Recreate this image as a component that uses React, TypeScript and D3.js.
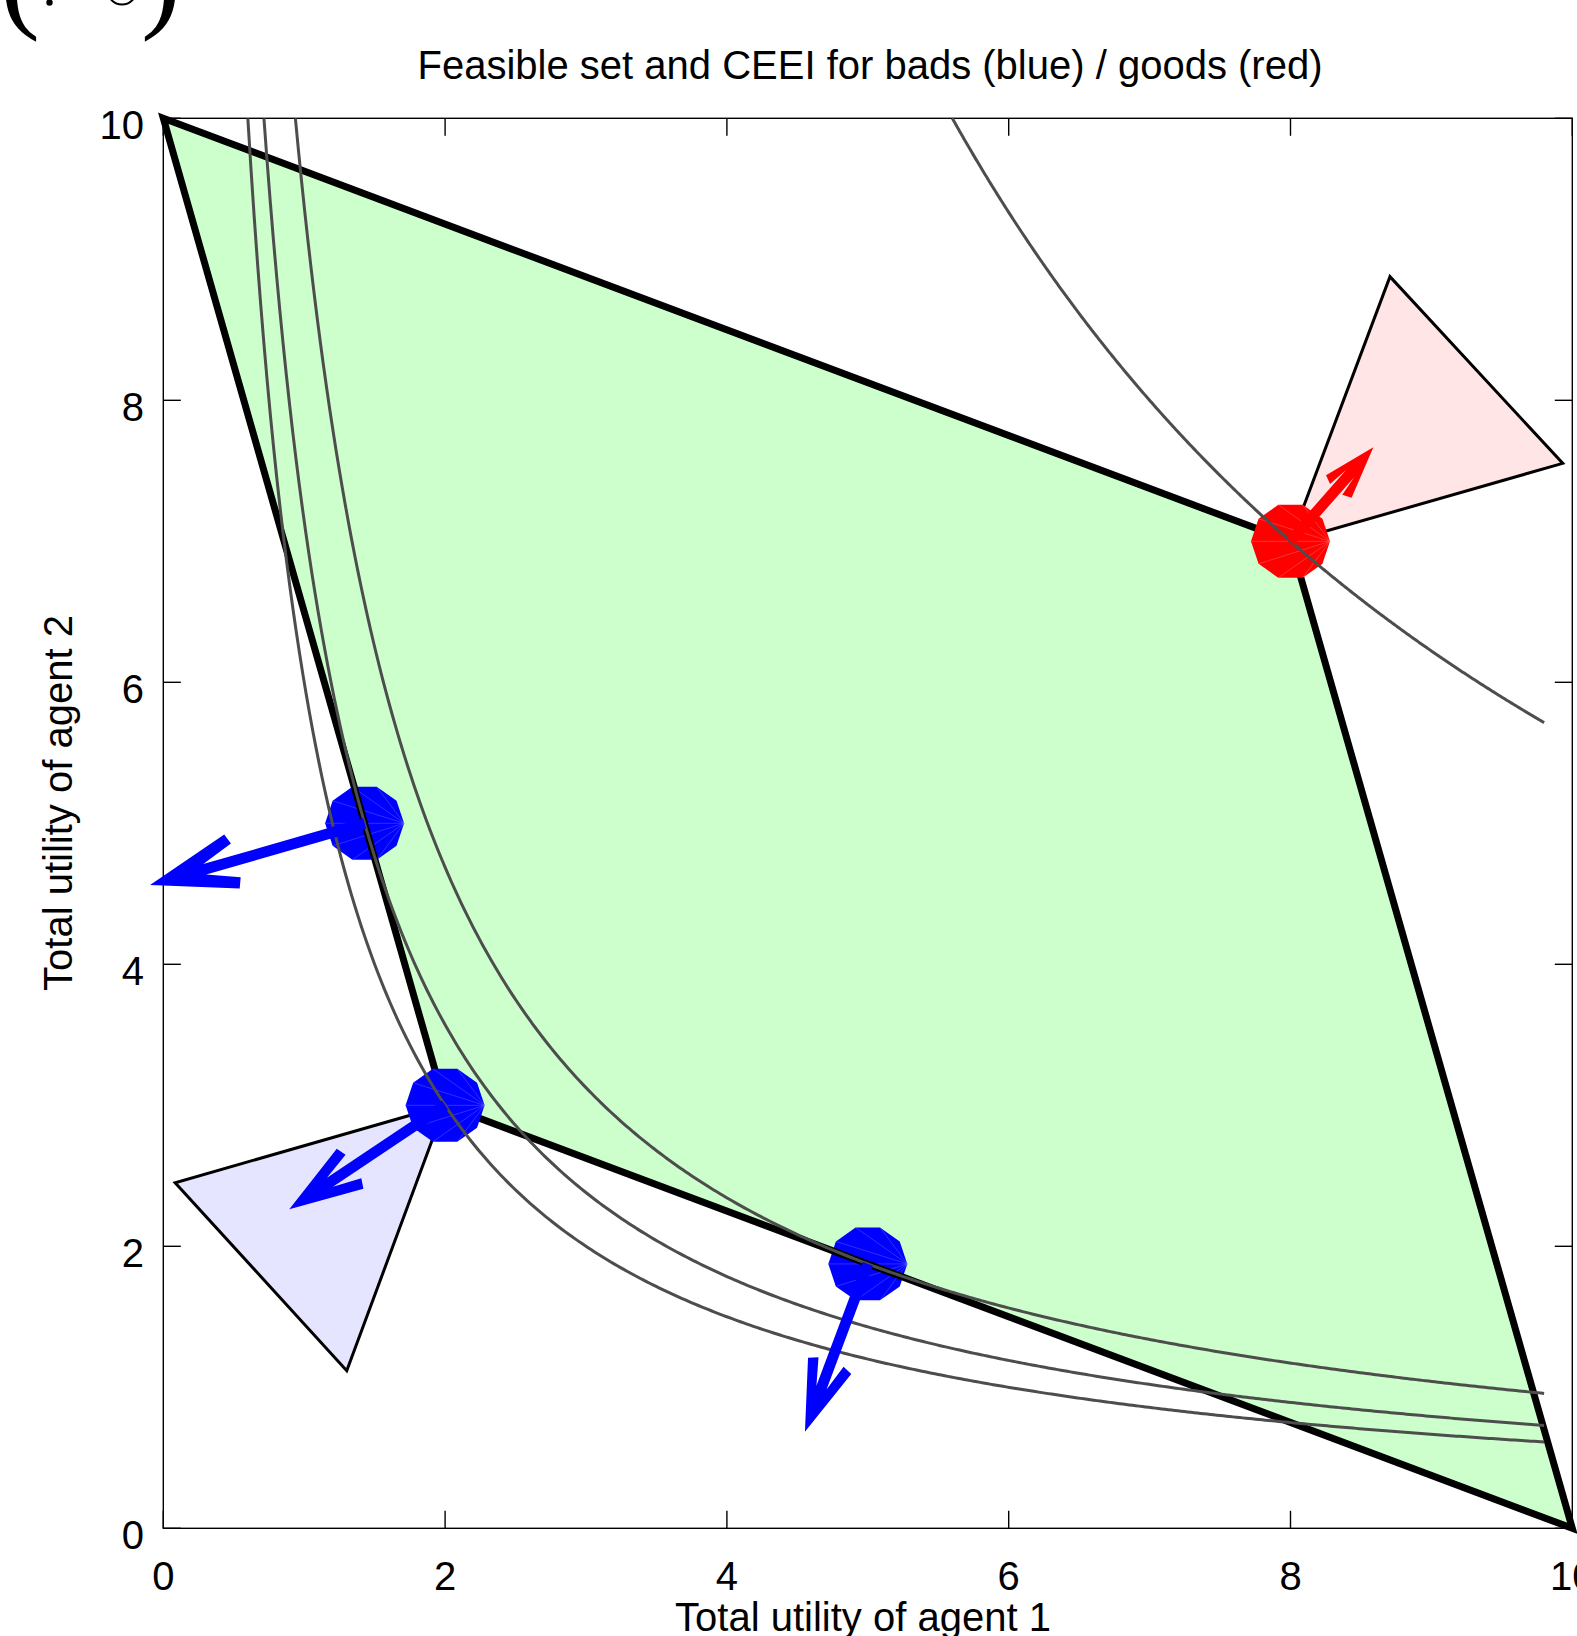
import React from "react";
import * as d3 from "d3";

// ---------- data ----------
const xTicks = [0, 2, 4, 6, 8, 10];
const yTicks = [0, 2, 4, 6, 8, 10];
const xTickLabels = ["0", "2", "4", "6", "8", "10"];
const yTickLabels = ["0", "2", "4", "6", "8", "10"];

// feasible set (utility frontier polygon)
const feasibleSet: [number, number][] = [
  [0, 10],
  [8, 7],
  [10, 0],
  [2, 3],
];

// CEEI points
const badsPoints: [number, number][] = [
  [10 / 7, 5],
  [2, 3],
  [5, 1.875],
];
const badsArrowTips: [number, number][] = [
  [-0.094, 4.562],
  [0.894, 2.262],
  [4.554, 0.685],
];
const goodsPoints: [number, number][] = [[8, 7]];
const goodsArrowTips: [number, number][] = [[8.588, 7.667]];

// cones
const goodsCone: [number, number][] = [
  [8, 7],
  [8.706, 8.877],
  [9.932, 7.553],
];
const badsCone: [number, number][] = [
  [2, 3],
  [0.084, 2.451],
  [1.302, 1.118],
];

// Nash-product level curves  x*y = c
const badsLevels = [6, 50 / 7, 9.375];
const goodsLevels = [56];
const curveXMax = 9.8;

const title = "Feasible set and CEEI for bads (blue) / goods (red)";
const xLabel = "Total utility of agent 1";
const yLabel = "Total utility of agent 2";

// ---------- layout ----------
const W = 1577;
const H = 1636;
const x = d3.scaleLinear().domain([0, 10]).range([163.3, 1572.3]);
const y = d3.scaleLinear().domain([0, 10]).range([1528.3, 118.3]);
const FONT = "'Liberation Sans', Arial, Helvetica, sans-serif";
const FS = 40;

function levelCurve(c: number) {
  const xs = d3.range(0, 401).map((i) => c / 10 + ((curveXMax - c / 10) * i) / 400);
  const line = d3
    .line<number>()
    .x((v) => x(v))
    .y((v) => y(c / v));
  return line(xs) as string;
}

function dotPolygon(cx: number, cy: number, r: number) {
  return d3.range(10).map((k) => {
    const a = (k * Math.PI * 2) / 10;
    return [cx + r * Math.cos(a), cy - r * Math.sin(a) * 0.97];
  });
}

function arrowPolygon(sx: number, sy: number, tx: number, ty: number) {
  const dx = tx - sx;
  const dy = ty - sy;
  const len = Math.hypot(dx, dy);
  const ux = dx / len;
  const uy = dy / len;
  const nx = -uy;
  const ny = ux;
  const head = 11 + 0.337 * len;
  const outerV = 3 + 0.112 * len;
  const innerV = -4 + 0.097 * len;
  const outerU = head - 1;
  const innerU = head + 3;
  const notchU = 0.66 * head;
  const w = 5.4;
  const P = (u: number, v: number) => [tx - ux * u + nx * v, ty - uy * u + ny * v];
  const pts = [
    P(0, 0),
    P(outerU, outerV),
    P(innerU, innerV),
    P(notchU, w),
    P(len, w),
    P(len, -w),
    P(notchU, -w),
    P(innerU, -innerV),
    P(outerU, -outerV),
  ];
  return pts.map((p) => p.join(",")).join(" ");
}

const isVertex = (p: [number, number]) =>
  feasibleSet.some((v) => Math.abs(v[0] - p[0]) < 1e-9 && Math.abs(v[1] - p[1]) < 1e-9);

function Dot({ p, color, fan }: { p: [number, number]; color: string; fan: string }) {
  const cx = x(p[0]);
  const cy = y(p[1]);
  const pts = dotPolygon(cx, cy, 39.5);
  return (
    <g>
      <polygon points={pts.map((q) => q.join(",")).join(" ")} fill={color} />
      {pts.slice(2, 9).map((q, i) => (
        <line
          key={i}
          x1={pts[0][0]}
          y1={pts[0][1]}
          x2={q[0]}
          y2={q[1]}
          stroke={fan}
          strokeWidth={0.6}
        />
      ))}
    </g>
  );
}

export default function App() {
  const polyPts = feasibleSet.map((p) => `${x(p[0])},${y(p[1])}`).join(" ");
  const [x0, x1] = x.range();
  const [y0, y1] = y.range();
  const tickLen = 17.5;

  const allDots = [
    ...badsPoints.map((p) => ({ p, color: "#0000ff", fan: "rgba(140,140,255,0.55)" })),
    ...goodsPoints.map((p) => ({ p, color: "#ff0000", fan: "rgba(255,150,150,0.55)" })),
  ];

  return (
    <svg
      width={W}
      height={H}
      viewBox={`0 0 ${W} ${H}`}
      style={{ position: "absolute", left: 0, top: 0, display: "block", background: "#fff" }}
    >
      <rect x={0} y={0} width={W} height={H} fill="#fff" />

      {/* fragment of formula above the chart */}
      <text x={0} y={16} fontFamily="'Liberation Serif', 'DejaVu Serif', serif" fontSize={120}>
        (
      </text>
      <text x={141} y={16} fontFamily="'Liberation Serif', 'DejaVu Serif', serif" fontSize={120}>
        )
      </text>
      <circle cx={49.5} cy={2.5} r={3.2} fill="#000" />
      <circle cx={122} cy={-10} r={14.5} fill="none" stroke="#000" strokeWidth={2} />

      {/* title */}
      <text x={870} y={78.5} textAnchor="middle" fontFamily={FONT} fontSize={FS} fill="#000">
        {title}
      </text>

      {/* feasible set fill */}
      <polygon points={polyPts} fill="#ccffcc" stroke="none" />

      {/* cones */}
      <polygon
        points={goodsCone.map((p) => `${x(p[0])},${y(p[1])}`).join(" ")}
        fill="#ffe5e5"
        stroke="#000"
        strokeWidth={3}
        strokeLinejoin="miter"
      />
      <polygon
        points={badsCone.map((p) => `${x(p[0])},${y(p[1])}`).join(" ")}
        fill="#e5e5ff"
        stroke="#000"
        strokeWidth={3}
        strokeLinejoin="miter"
      />

      {/* axes box */}
      <rect x={x0} y={y1} width={x1 - x0} height={y0 - y1} fill="none" stroke="#000" strokeWidth={1.4} />
      {xTicks.map((t, i) => (
        <g key={"xt" + i}>
          <line x1={x(t)} x2={x(t)} y1={y0} y2={y0 - tickLen} stroke="#000" strokeWidth={1.4} />
          <line x1={x(t)} x2={x(t)} y1={y1} y2={y1 + tickLen} stroke="#000" strokeWidth={1.4} />
          <text x={x(t)} y={1589.5} textAnchor="middle" fontFamily={FONT} fontSize={FS} fill="#000">
            {xTickLabels[i]}
          </text>
        </g>
      ))}
      {yTicks.map((t, i) => (
        <g key={"yt" + i}>
          <line x1={x0} x2={x0 + tickLen} y1={y(t)} y2={y(t)} stroke="#000" strokeWidth={1.4} />
          <line x1={x1} x2={x1 - tickLen} y1={y(t)} y2={y(t)} stroke="#000" strokeWidth={1.4} />
          <text x={144} y={y(t) + 21} textAnchor="end" fontFamily={FONT} fontSize={FS} fill="#000">
            {yTickLabels[i]}
          </text>
        </g>
      ))}

      {/* dots lying on an edge (drawn beneath the frontier) */}
      {allDots
        .filter((d) => !isVertex(d.p))
        .map((d, i) => (
          <Dot key={"de" + i} p={d.p} color={d.color} fan={d.fan} />
        ))}

      {/* frontier */}
      <polygon points={polyPts} fill="none" stroke="#000" strokeWidth={7} strokeLinejoin="miter" strokeMiterlimit={10} />

      {/* dots at vertices */}
      {allDots
        .filter((d) => isVertex(d.p))
        .map((d, i) => (
          <Dot key={"dv" + i} p={d.p} color={d.color} fan={d.fan} />
        ))}

      {/* level curves */}
      {[...badsLevels, ...goodsLevels].map((c, i) => (
        <path key={"lc" + i} d={levelCurve(c)} fill="none" stroke="#4d4d4d" strokeWidth={3} />
      ))}

      {/* arrows */}
      {badsPoints.map((p, i) => (
        <polygon
          key={"ba" + i}
          points={arrowPolygon(x(p[0]), y(p[1]), x(badsArrowTips[i][0]), y(badsArrowTips[i][1]))}
          fill="#0000ff"
        />
      ))}
      {goodsPoints.map((p, i) => (
        <polygon
          key={"ga" + i}
          points={arrowPolygon(x(p[0]), y(p[1]), x(goodsArrowTips[i][0]), y(goodsArrowTips[i][1]))}
          fill="#ff0000"
        />
      ))}

      {/* axis labels */}
      <text x={863} y={1631} textAnchor="middle" fontFamily={FONT} fontSize={FS} fill="#000">
        {xLabel}
      </text>
      <text
        transform="translate(71.5,803) rotate(-90)"
        textAnchor="middle"
        fontFamily={FONT}
        fontSize={FS}
        fill="#000"
      >
        {yLabel}
      </text>
    </svg>
  );
}
